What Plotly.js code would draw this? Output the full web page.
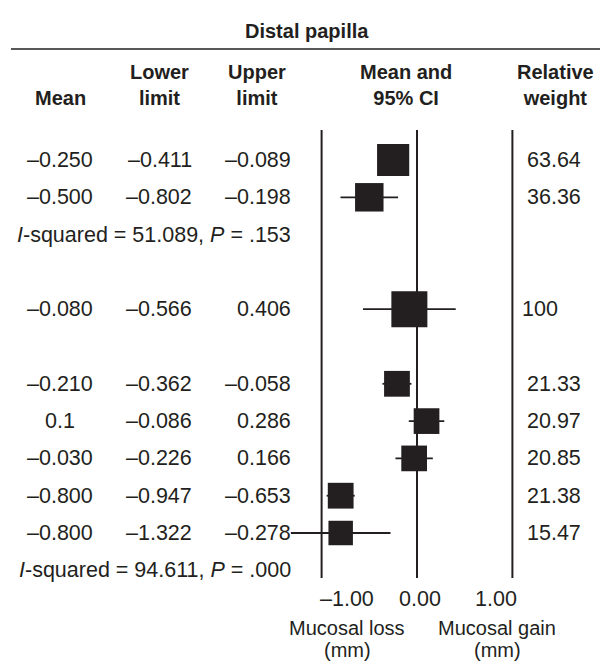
<!DOCTYPE html>
<html>
<head>
<meta charset="utf-8">
<script src="https://cdn.plot.ly/plotly-3.0.1.min.js"></script>
<style>html,body{margin:0;padding:0;background:#fff;}#chart{width:600px;height:661px;}</style>
</head>
<body>
<div id="chart"></div>
<script>
// ---- data ----
const rows = [0, 1, 4, 6, 7, 8, 9, 10];
const means = [-0.25, -0.5, -0.08, -0.21, 0.1, -0.03, -0.8, -0.8];
const lowerLimits = [-0.411, -0.802, -0.566, -0.362, -0.086, -0.226, -0.947, -1.322];
const upperLimits = [-0.089, -0.198, 0.406, -0.058, 0.286, 0.166, -0.653, -0.278];
const weights = [63.64, 36.36, 100, 21.33, 20.97, 20.85, 21.38, 15.47];
const meanLabels = ["\u20130.250", "\u20130.500", "\u20130.080", "\u20130.210", "0.1", "\u20130.030", "\u20130.800", "\u20130.800"];
const lowerLabels = ["\u20130.411", "\u20130.802", "\u20130.566", "\u20130.362", "\u20130.086", "\u20130.226", "\u20130.947", "\u20131.322"];
const upperLabels = ["\u20130.089", "\u20130.198", "0.406", "\u20130.058", "0.286", "0.166", "\u20130.653", "\u20130.278"];
const weightLabels = ["63.64", "36.36", "100", "21.33", "20.97", "20.85", "21.38", "15.47"];
const hetRows = [2, 11];
const hetLabels = ["<i>I</i>-squared = 51.089, <i>P</i> = .153", "<i>I</i>-squared = 94.611, <i>P</i> = .000"];
const tickVals = [-1, 0, 1];
const tickLabels = ["\u20131.00", "0.00", "1.00"];
const columnHeaders = ["Mean", "Lower<br>limit", "Upper<br>limit", "Mean and<br>95% CI", "Relative<br>weight"];
const title = "Distal papilla";
const axisNotes = [["Mucosal loss", "(mm)"], ["Mucosal gain", "(mm)"]];

// ---- layout helpers ----
const W = 600, H = 661;
const px = v => v / W;
const py = v => 1 - v / H;
const ROW0 = 160, ROWSTEP = 37.3;
const X0 = 417, XUNIT = 95.4;
const INK = "#231f20";
const bodyFont = {family: "Liberation Sans, Arial, sans-serif", size: 21.5, color: INK};
const headFont = {family: "Liberation Sans, Arial, sans-serif", size: 20, color: INK, weight: 700};

const sizes = weights.map(w => 17 + 1.9 * Math.sqrt(w));

const trace = {
  type: "scatter", mode: "markers",
  x: means, y: rows,
  marker: {symbol: "square", size: sizes, color: INK, opacity: 1, line: {width: 0}},
  error_x: {
    type: "data", symmetric: false,
    array: upperLimits.map((u, i) => u - means[i]),
    arrayminus: lowerLimits.map((l, i) => means[i] - l),
    color: INK, thickness: 1.8, width: 0
  },
  hoverinfo: "skip", showlegend: false, cliponaxis: false
};

const annotations = [];
function ann(o) { annotations.push(Object.assign({showarrow: false, font: bodyFont}, o)); }

ann({text: "<b>" + title + "</b>", xref: "paper", yref: "paper", x: px(307), y: py(31), xanchor: "center", yanchor: "middle", font: headFont});
const headX = [60, 159, 257, 406, 555];
columnHeaders.forEach((h, i) => {
  ann({text: "<b>" + h + "</b>", xref: "paper", yref: "paper", x: px(headX[i]), y: py(111), xanchor: "center", yanchor: "bottom", font: headFont});
});
rows.forEach((r, i) => {
  ann({text: meanLabels[i], xref: "paper", yref: "y", x: px(60), y: r, xanchor: "center", yanchor: "middle"});
  ann({text: lowerLabels[i], xref: "paper", yref: "y", x: px(194), y: r, xanchor: "right", yanchor: "middle"});
  ann({text: upperLabels[i], xref: "paper", yref: "y", x: px(293), y: r, xanchor: "right", yanchor: "middle"});
  ann({text: weightLabels[i], xref: "paper", yref: "y", x: px(weightLabels[i].length < 5 ? 520 : 525), y: r, xanchor: "left", yanchor: "middle"});
});
hetRows.forEach((r, i) => {
  ann({text: hetLabels[i], xref: "paper", yref: "y", x: px(293), y: r, xanchor: "right", yanchor: "middle"});
});
const tickAnchors = ["left", "center", "right"];
const tickShift = [-4, 3, 7];
tickVals.forEach((v, i) => {
  ann({text: tickLabels[i], xref: "x", yref: "paper", x: v, y: py(599), xanchor: tickAnchors[i], xshift: tickShift[i], yanchor: "middle"});
});
const noteFont = Object.assign({}, bodyFont, {size: 20});
const noteX = [347, 497];
const noteY = [628, 650];
axisNotes.forEach((lines, i) => {
  lines.forEach((t, j) => {
    ann({text: t, xref: "paper", yref: "paper", x: px(noteX[i]), y: py(noteY[j]), xanchor: "center", yanchor: "middle", font: noteFont});
  });
});

const yTop = (130 - ROW0) / ROWSTEP, yBot = (578 - ROW0) / ROWSTEP;
const shapes = tickVals.map(v => ({type: "line", xref: "x", yref: "y", x0: v, x1: v, y0: yTop, y1: yBot, line: {color: INK, width: 2}}));
shapes.push({type: "line", xref: "paper", yref: "paper", x0: px(11), x1: 1, y0: py(49), y1: py(49), line: {color: INK, width: 1.5}});

const layout = {
  width: W, height: H,
  margin: {l: 0, r: 0, t: 0, b: 0, pad: 0},
  paper_bgcolor: "#fff", plot_bgcolor: "#fff",
  xaxis: {range: [-X0 / XUNIT, (W - X0) / XUNIT], visible: false, fixedrange: true},
  yaxis: {range: [(H - ROW0) / ROWSTEP, -ROW0 / ROWSTEP], visible: false, fixedrange: true},
  shapes: shapes, annotations: annotations
};
Plotly.newPlot("chart", [trace], layout, {staticPlot: true, displayModeBar: false});
</script>
</body>
</html>
